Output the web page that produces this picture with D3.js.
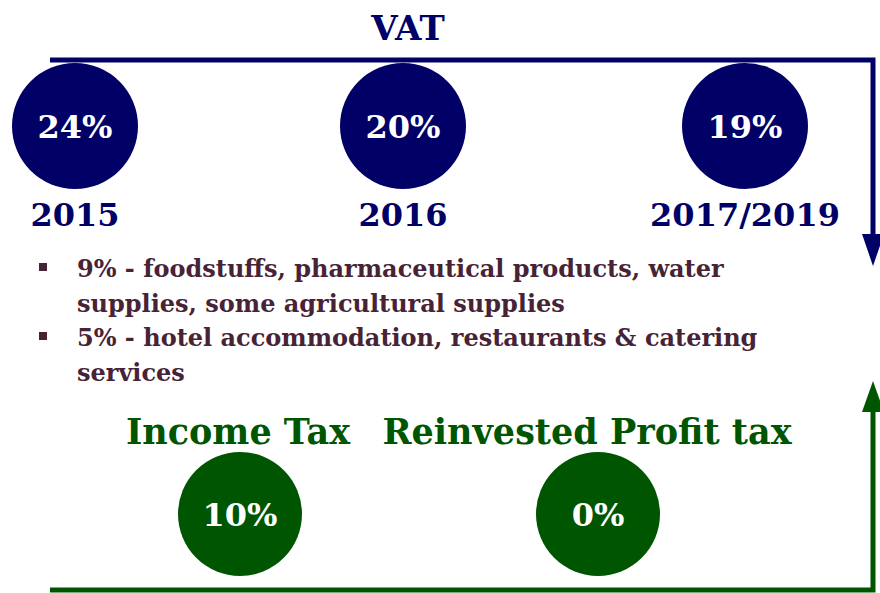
<!DOCTYPE html>
<html>
<head>
<meta charset="utf-8">
<script src="https://cdn.jsdelivr.net/npm/d3@7"></script>
<style>
  html, body { margin: 0; padding: 0; background: #fff; }
  svg { display: block; font-family: "DejaVu Serif", serif; font-weight: bold; }
</style>
</head>
<body>
<div id="chart"></div>
<script>
const vatYears = ["2015", "2016", "2017/2019"]
const vatRates = ["24%", "20%", "19%"]
const reducedRates = [
  ["9% - foodstuffs, pharmaceutical products, water", "supplies, some agricultural supplies"],
  ["5% - hotel accommodation, restaurants & catering", "services"]
]
const otherTaxes = ["Income Tax", "Reinvested Profit tax"]
const otherRates = ["10%", "0%"]

const width = 880
const height = 593
const navy = "#000066"
const green = "#005500"
const textColor = "#472335"

const svg = d3.select("#chart").append("svg")
  .attr("width", width)
  .attr("height", height)

// VAT section
const xVat = d3.scaleOrdinal().domain(vatYears).range([75, 403, 745])

svg.append("text")
  .attr("x", 408).attr("y", 40)
  .attr("text-anchor", "middle")
  .attr("font-size", 34)
  .attr("fill", navy)
  .text("VAT")

svg.append("path")
  .attr("d", "M50,60 H873 V236")
  .attr("fill", "none")
  .attr("stroke", navy)
  .attr("stroke-width", 5)
svg.append("path")
  .attr("d", "M862,234 L884,234 L873,266 Z")
  .attr("fill", navy)

const vatG = svg.append("g")
vatG.selectAll("circle")
  .data(vatYears)
  .join("circle")
  .attr("cx", d => xVat(d))
  .attr("cy", 126)
  .attr("r", 63)
  .attr("fill", navy)

vatG.selectAll("text.rate")
  .data(vatRates)
  .join("text")
  .attr("class", "rate")
  .attr("x", (d, i) => xVat(vatYears[i]))
  .attr("y", 126)
  .attr("dy", "0.36em")
  .attr("text-anchor", "middle")
  .attr("font-size", 32)
  .attr("fill", "#fff")
  .text(d => d)

vatG.selectAll("text.year")
  .data(vatYears)
  .join("text")
  .attr("class", "year")
  .attr("x", d => xVat(d))
  .attr("y", 226)
  .attr("text-anchor", "middle")
  .attr("font-size", 32)
  .attr("fill", navy)
  .text(d => d)

// bullets
const bulletG = svg.append("g")
let line = 0
reducedRates.forEach(lines => {
  const y0 = 277 + line * 34.5
  bulletG.append("rect")
    .attr("x", 39).attr("y", y0 - 14)
    .attr("width", 8).attr("height", 8)
    .attr("fill", textColor)
  lines.forEach(t => {
    bulletG.append("text")
      .attr("x", 77)
      .attr("y", 277 + line * 34.5)
      .attr("font-size", 24)
      .attr("fill", textColor)
      .text(t)
    line++
  })
})

// Income / profit tax section
const xOther = d3.scaleOrdinal().domain(otherTaxes).range([240, 598])
const labelX = d3.scaleOrdinal().domain(otherTaxes).range([238, 587])

svg.append("path")
  .attr("d", "M50,590 H873 V410")
  .attr("fill", "none")
  .attr("stroke", green)
  .attr("stroke-width", 5)
svg.append("path")
  .attr("d", "M862,412 L884,412 L873,381 Z")
  .attr("fill", green)

const otherG = svg.append("g")
otherG.selectAll("text.label")
  .data(otherTaxes)
  .join("text")
  .attr("class", "label")
  .attr("x", d => labelX(d))
  .attr("y", 444)
  .attr("text-anchor", "middle")
  .attr("font-size", 35)
  .attr("fill", green)
  .text(d => d)

otherG.selectAll("circle")
  .data(otherTaxes)
  .join("circle")
  .attr("cx", d => xOther(d))
  .attr("cy", 514)
  .attr("r", 62)
  .attr("fill", green)

otherG.selectAll("text.rate")
  .data(otherRates)
  .join("text")
  .attr("class", "rate")
  .attr("x", (d, i) => xOther(otherTaxes[i]))
  .attr("y", 514)
  .attr("dy", "0.36em")
  .attr("text-anchor", "middle")
  .attr("font-size", 32)
  .attr("fill", "#fff")
  .text(d => d)
</script>
</body>
</html>
